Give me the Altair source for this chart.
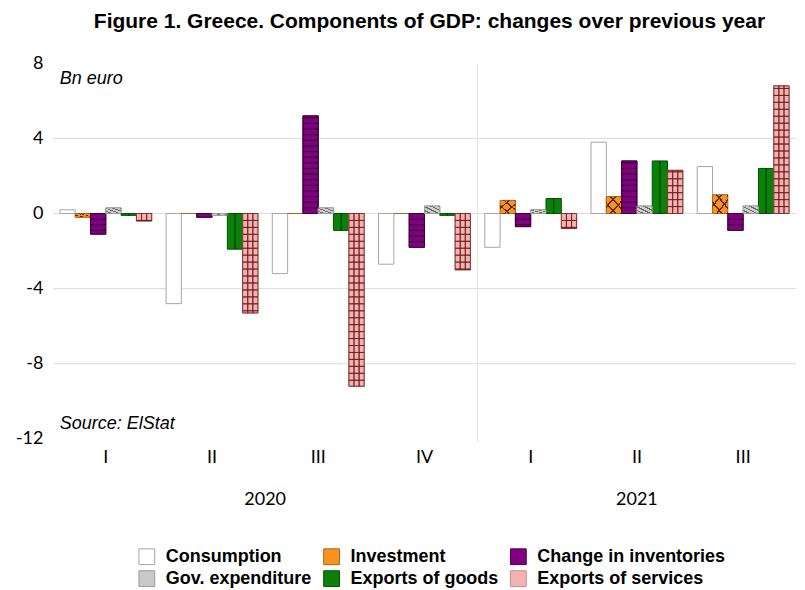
import math
import altair as alt
import pandas as pd

# ---------------- data ----------------
periods = ["2020-I", "2020-II", "2020-III", "2020-IV", "2021-I", "2021-II", "2021-III"]
components = ["Consumption", "Investment", "Change in inventories",
              "Gov. expenditure", "Exports of goods", "Exports of services"]
consumption = [0.2, -4.8, -3.2, -2.7, -1.8, 3.8, 2.5]
investment = [-0.2, 0.0, 0.0, 0.0, 0.7, 0.9, 1.0]
inventories = [-1.1, -0.2, 5.2, -1.8, -0.7, 2.8, -0.9]
gov_exp = [0.3, -0.1, 0.3, 0.4, 0.2, 0.4, 0.4]
exp_goods = [-0.1, -1.9, -0.9, -0.1, 0.8, 2.8, 2.4]
exp_services = [-0.4, -5.3, -9.2, -3.0, -0.8, 2.3, 6.8]
y_ticks = [-12, -8, -4, 0, 4, 8]
grid_values = [4, 0, -4, -8]
years = ["2020", "2021"]
notes = ["Bn euro", "Source: ElStat"]
note_levels = [7.15, -11.2]

fill_colors = ["#FFFFFF", "#F7941D", "#800080", "#C9C9C9", "#0A820A", "#F4B3B3"]
stroke_colors = ["#A6A6A6", "#B0601A", "#4A004A", "#9A9A9A", "#005000", "#C98E8E"]

title_text = "Figure 1. Greece. Components of GDP: changes over previous year"

W, H = 744, 376
PAD_IN, PAD_OUT = 0.135, 0.065
STEP = W / (len(periods) - PAD_IN + 2 * PAD_OUT)
HALF_GAP = STEP * PAD_IN / 2

series = [consumption, investment, inventories, gov_exp, exp_goods, exp_services]
rows = []
for comp, vals in zip(components, series):
    for p, v in zip(periods, vals):
        rows.append({"period": p, "component": comp, "value": v, "base": 0.0})
df = pd.DataFrame(rows)

# sub-slots (3 per component) for the services grid pattern
slots = [f"{c}|{j}" for c in components for j in range(3)]


def segments(comp, vals, step, sub=False):
    out = []
    for p, v in zip(periods, vals):
        s = 1 if v >= 0 else -1
        n = int(math.ceil(abs(v) / step - 1e-9))
        for k in range(n):
            y0, y1 = s * k * step, s * min((k + 1) * step, abs(v))
            if sub:
                for j in range(3):
                    out.append({"period": p, "slot": f"{comp}|{j}", "y0": y0, "y1": y1})
            else:
                out.append({"period": p, "component": comp, "y0": y0, "y1": y1})
    return pd.DataFrame(out)


def stripes(n, line, bg, frac=0.3):
    stops = []
    for i in range(n):
        a, b, c = i / n, (i + 1 - frac) / n, (i + 1) / n
        stops += [alt.GradientStop(color=bg, offset=a), alt.GradientStop(color=bg, offset=b),
                  alt.GradientStop(color=line, offset=b), alt.GradientStop(color=line, offset=c)]
    return stops


x_scale = alt.Scale(domain=periods, paddingInner=PAD_IN, paddingOuter=PAD_OUT)
xo_scale = alt.Scale(domain=components, paddingInner=0, paddingOuter=0)
slot_scale = alt.Scale(domain=slots, paddingInner=0, paddingOuter=0)
y_scale = alt.Scale(domain=[-12, 8], nice=False, zero=False)

X_AX = alt.Axis(title=None, labelExpr="split(datum.value, '-')[1]", domain=False, ticks=False,
                grid=False, labelAngle=0, labelFont="Lato", labelFontSize=18,
                labelColor="#000", labelPadding=10)
Y_AX = alt.Axis(title=None, values=y_ticks, grid=False, domain=False, ticks=False,
                labelExpr="toString(datum.value)",
                labelFont="Lato", labelFontSize=18, labelColor="#000",
                labelPadding=10, minExtent=45, maxExtent=45)


def xenc(**kw):
    return alt.X("period:N", scale=x_scale, axis=X_AX, **kw)


def yenc(field):
    return alt.Y(field, scale=y_scale, axis=Y_AX)


xo = alt.XOffset("component:N", scale=xo_scale)

grid = alt.Chart(pd.DataFrame({"g": grid_values})).mark_rule(
    color="#DCDCDC", strokeWidth=1).encode(y=yenc("g:Q"))

sep = alt.Chart(pd.DataFrame({"period": ["2020-IV"]})).mark_rule(
    color="#E4E4E4", strokeWidth=1, xOffset=HALF_GAP).encode(
    x=xenc(bandPosition=1), y=alt.value(0), y2=alt.value(H + 3))

bars = alt.Chart(df).mark_bar(strokeWidth=1).encode(
    x=xenc(),
    xOffset=xo,
    y=yenc("value:Q"),
    fill=alt.Fill("component:N", scale=alt.Scale(domain=components, range=fill_colors),
                  legend=alt.Legend(title=None, orient="none", legendX=85, legendY=485,
                                    direction="horizontal", columns=3, symbolType="square",
                                    symbolSize=250, symbolStrokeColor="#707070",
                                    symbolStrokeWidth=1, labelFont="Liberation Sans",
                                    labelFontSize=18, labelFontWeight="bold",
                                    labelColor="#000", labelOffset=10, columnPadding=10,
                                    rowPadding=2, labelLimit=300)),
    stroke=alt.Stroke("component:N", scale=alt.Scale(domain=components, range=stroke_colors),
                      legend=None),
)

# hatching: inventories (horizontal lines)
inv_seg = alt.Chart(segments("Change in inventories", inventories, 0.3)).mark_bar(
    fillOpacity=0, stroke="#3A003A", strokeWidth=0.8).encode(
    x=xenc(), xOffset=xo, y=yenc("y0:Q"), y2="y1:Q")

# services grid (cells)
srv_cells = alt.Chart(segments("Exports of services", exp_services, 0.37, sub=True)).mark_bar(
    fillOpacity=0, stroke="#6E1A1A", strokeWidth=0.8).encode(
    x=xenc(), xOffset=alt.XOffset("slot:N", scale=slot_scale),
    y=yenc("y0:Q"), y2="y1:Q")

# goods centre line
df_goods = df[df.component == "Exports of goods"]
goods_line = alt.Chart(df_goods).mark_rule(color="#003A00", strokeWidth=1.2).encode(
    x=xenc(), xOffset=xo, y=yenc("value:Q"), y2="base:Q")

# gov diagonal hatch
df_gov = df[df.component == "Gov. expenditure"]
gov_hatch = alt.Chart(df_gov).mark_bar(
    fill=alt.LinearGradient(gradient="linear", x1=0, y1=1, x2=1, y2=0,
                            stops=stripes(4, "#6A6A6A", "#D0D0D0", 0.35)),
    stroke="#9A9A9A", strokeWidth=0.8).encode(
    x=xenc(), xOffset=xo, y=yenc("value:Q"), y2="base:Q")

# investment cross hatch
df_inv = df[df.component == "Investment"]
clear = "rgba(0,0,0,0)"
inv_h1 = alt.Chart(df_inv).mark_bar(
    fill=alt.LinearGradient(gradient="linear", x1=0, y1=1, x2=1, y2=0,
                            stops=stripes(3, "#5A2A00", clear, 0.18)), strokeWidth=0).encode(
    x=xenc(), xOffset=xo, y=yenc("value:Q"), y2="base:Q")
inv_h2 = alt.Chart(df_inv).mark_bar(
    fill=alt.LinearGradient(gradient="linear", x1=0, y1=0, x2=1, y2=1,
                            stops=stripes(3, "#5A2A00", clear, 0.18)), strokeWidth=0).encode(
    x=xenc(), xOffset=xo, y=yenc("value:Q"), y2="base:Q")

note_txt = alt.Chart(pd.DataFrame({"period": ["2020-I", "2020-I"], "y": note_levels,
                                   "label": notes})).mark_text(
    align="left", baseline="middle", font="Liberation Sans", fontStyle="italic",
    fontSize=18, color="#000").encode(
    x=xenc(bandPosition=0), y=yenc("y:Q"), text="label:N")

year1 = alt.Chart(pd.DataFrame({"period": ["2020-II"], "label": [years[0]]})).mark_text(
    align="center", baseline="middle", font="Lato", fontSize=18, color="#000",
    dx=HALF_GAP).encode(
    x=xenc(bandPosition=1), y=alt.value(H + 61), text="label:N")
year2 = alt.Chart(pd.DataFrame({"period": ["2021-II"], "label": [years[1]]})).mark_text(
    align="center", baseline="middle", font="Lato", fontSize=18, color="#000").encode(
    x=xenc(bandPosition=0.5), y=alt.value(H + 61), text="label:N")

chart = alt.layer(
    grid, sep, bars, inv_seg, srv_cells, goods_line, gov_hatch, inv_h1, inv_h2,
    note_txt, year1, year2
).resolve_scale(xOffset="independent").properties(
    width=W, height=H,
    padding={"left": 0, "top": 3, "right": 0, "bottom": 5},
    title=alt.TitleParams(text=title_text, font="Liberation Sans", fontSize=21,
                          fontWeight="bold", color="#000", anchor="middle", offset=22, dx=5),
).configure(background="#FFFFFF").configure_view(stroke=None)

chart.save("out.html", embed_options={"renderer": "svg", "actions": False})
